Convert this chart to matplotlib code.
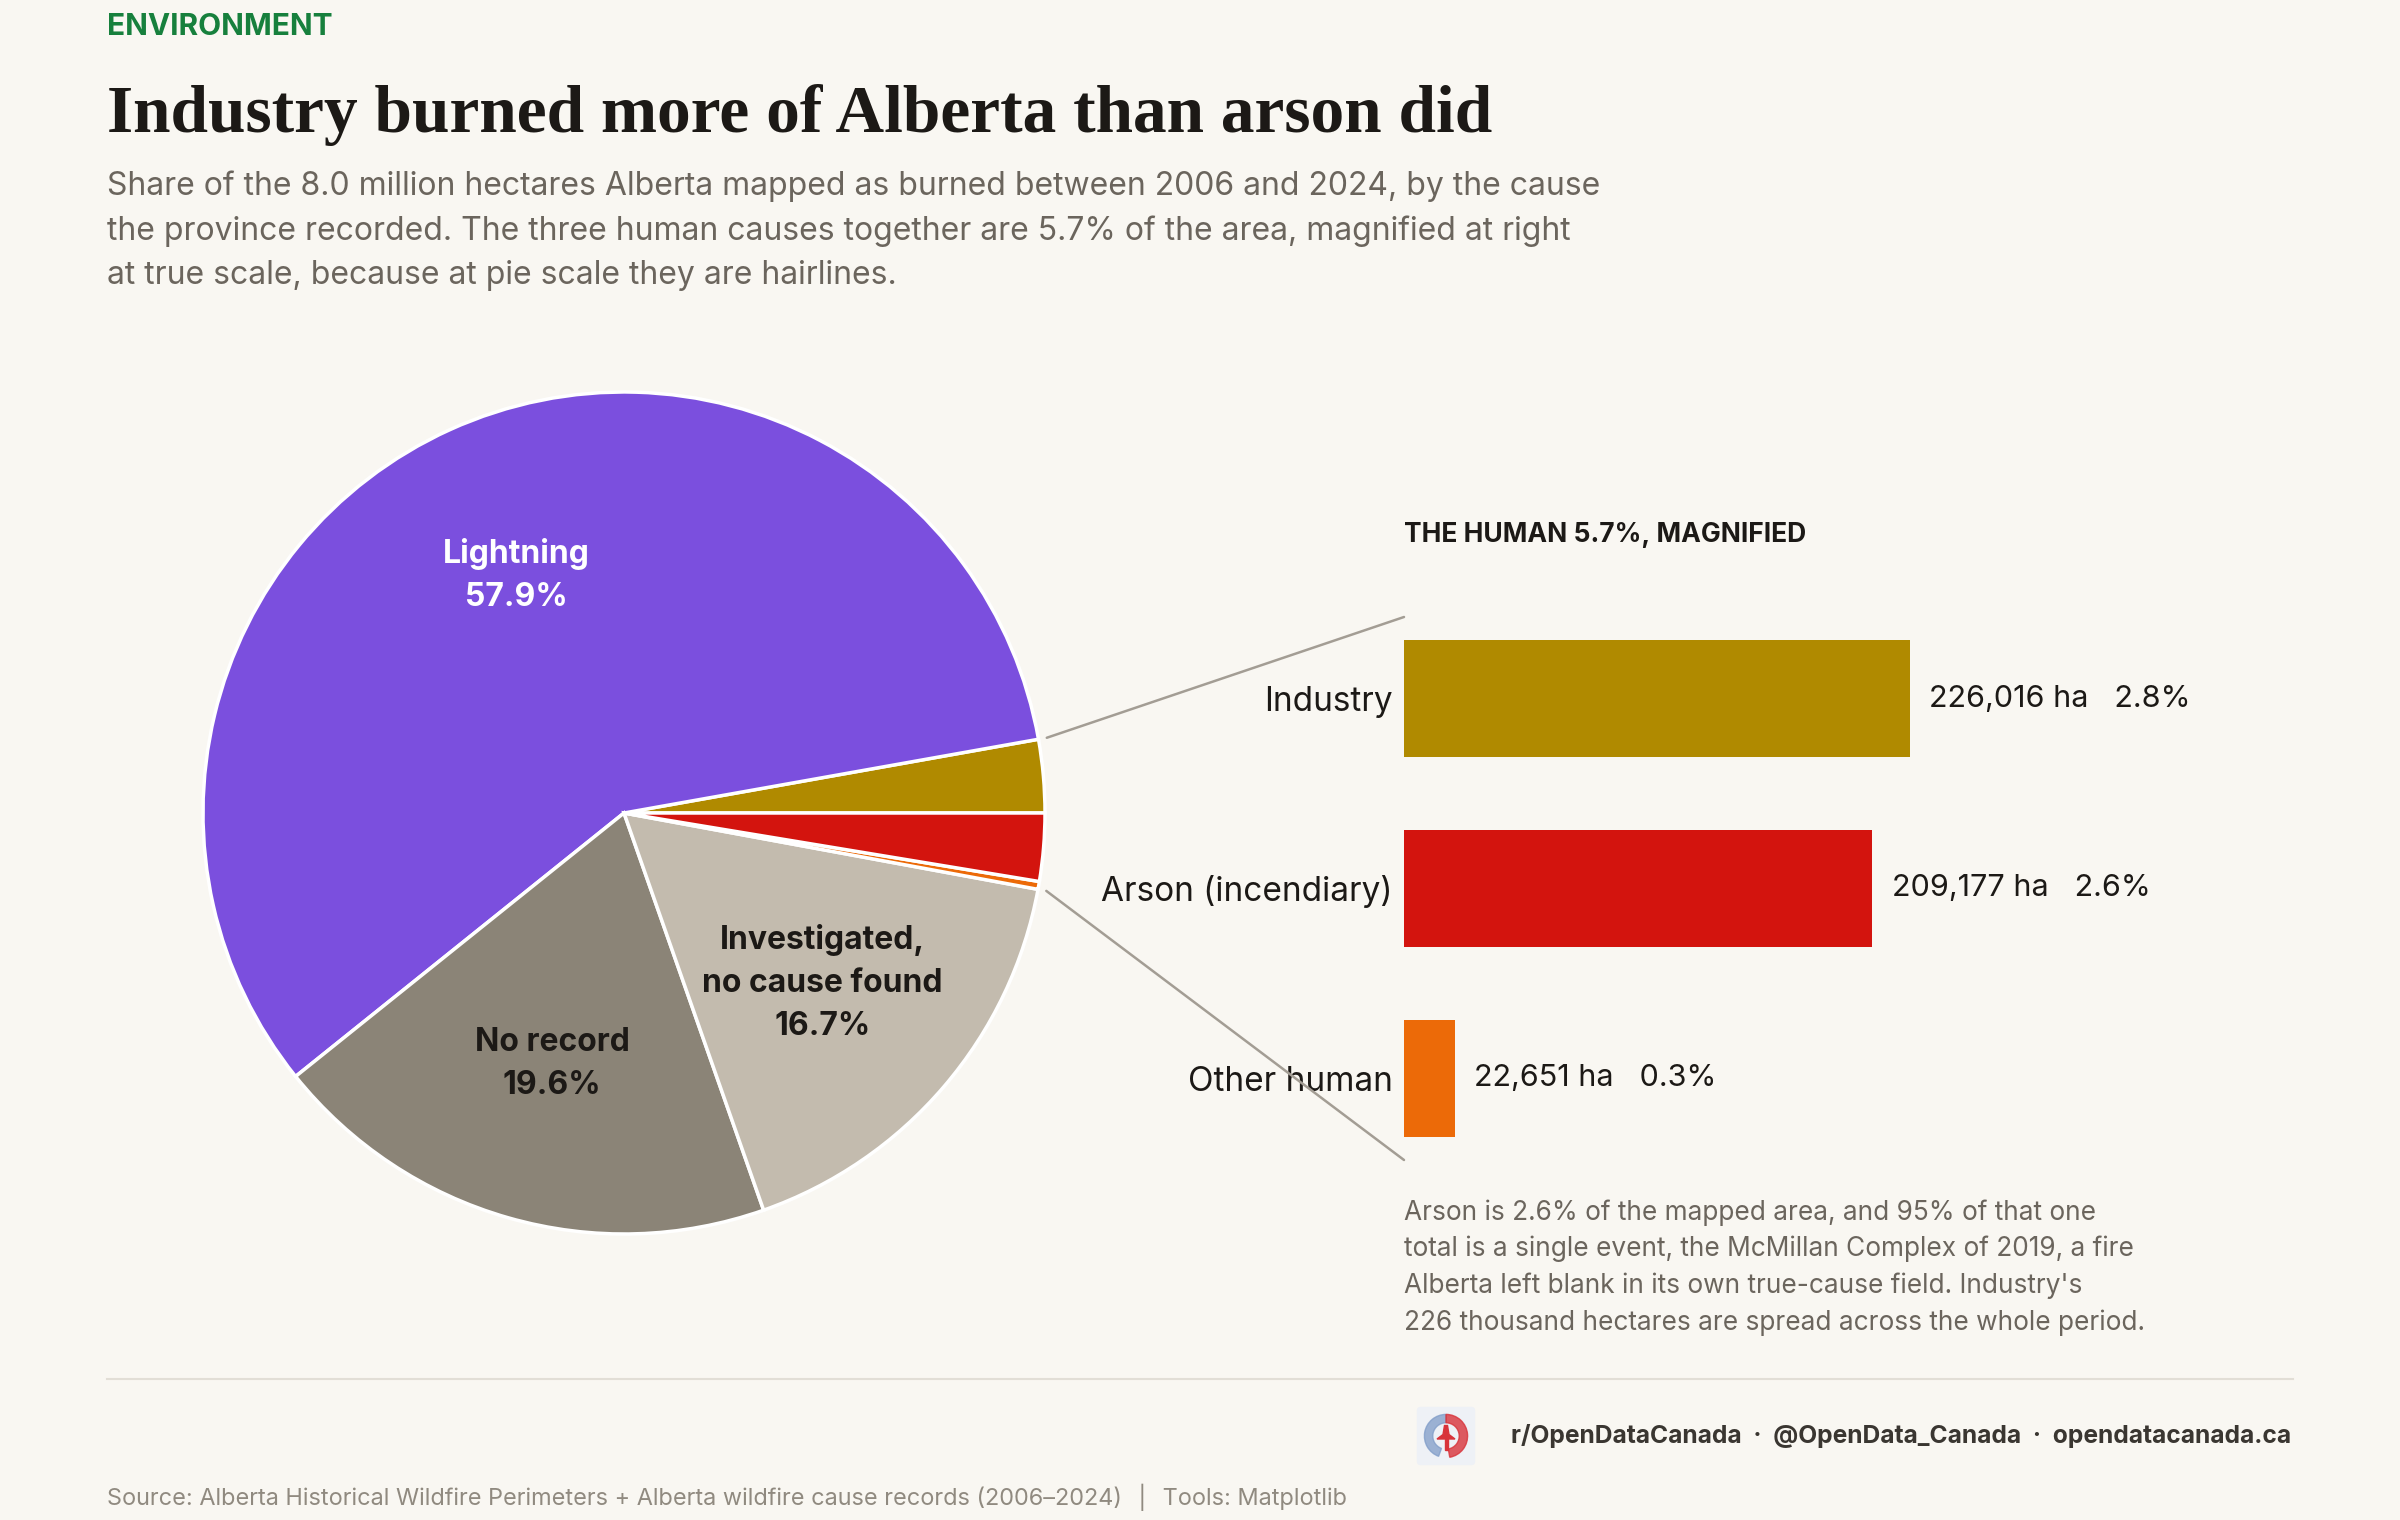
import numpy as np
import matplotlib
matplotlib.use("Agg")
import matplotlib.pyplot as plt
from matplotlib.patches import ConnectionPatch, Wedge, FancyBboxPatch, Polygon

# data
pie_labels = ["Industry", "Lightning", "No record", "Investigated,\nno cause found",
              "Other human", "Arson (incendiary)"]
pie_shares = [2.8, 57.9, 19.6, 16.7, 0.3, 2.6]
pie_colors = ["#b08a00", "#7b4fde", "#8b8477", "#c3bbae", "#ec6a08", "#d3140e"]

human_causes = ["Industry", "Arson (incendiary)", "Other human"]
human_hectares = [226016, 209177, 22651]
human_shares = [2.8, 2.6, 0.3]
human_colors = ["#b08a00", "#d3140e", "#ec6a08"]

BG = "#f9f7f2"
INK = "#1c1916"
GREY = "#6b655d"

plt.rcParams["font.family"] = ["Inter", "DejaVu Sans"]

fig = plt.figure(figsize=(24, 15.2), dpi=100, facecolor=BG)

# header
fig.text(107 / 2400, 1 - 27 / 1520, "ENVIRONMENT", color="#17803d", fontsize=21.5,
         fontweight="bold", va="center", ha="left")
fig.text(107 / 2400, 1 - 132 / 1520, "Industry burned more of Alberta than arson did",
         family="Liberation Serif", fontweight="bold", fontsize=48.5, color=INK,
         va="baseline", ha="left")
fig.text(107 / 2400, 1 - 170 / 1520,
         "Share of the 8.0 million hectares Alberta mapped as burned between 2006 and 2024, by the cause\n"
         "the province recorded. The three human causes together are 5.7% of the area, magnified at right\n"
         "at true scale, because at pie scale they are hairlines.",
         fontsize=23, color=GREY, va="top", ha="left", linespacing=1.55)

# pie
cx, cy, r = 624, 813, 421
ax_pie = fig.add_axes([(cx - r) / 2400, (1520 - cy - r) / 1520, 2 * r / 2400, 2 * r / 1520])
ax_pie.set_facecolor("none")
wedges, _ = ax_pie.pie(pie_shares, colors=pie_colors, startangle=0, counterclock=True,
                       radius=1.0, wedgeprops=dict(edgecolor="white", linewidth=2.5))
ax_pie.set_xlim(-1, 1)
ax_pie.set_ylim(-1, 1)
ax_pie.axis("off")

for w, lab, share in zip(wedges, pie_labels, pie_shares):
    if share < 10:
        continue
    ang = np.deg2rad((w.theta1 + w.theta2) / 2)
    col = "white" if lab == "Lightning" else INK
    ax_pie.text(0.62 * np.cos(ang), 0.62 * np.sin(ang), f"{lab}\n{share:.1f}%",
                ha="center", va="center", fontsize=23, fontweight="bold", color=col,
                linespacing=1.5)

# bars
ax_bar = fig.add_axes([1404 / 2400, (1520 - 1160) / 1520, 895.5 / 2400, 543 / 1520])
ax_bar.set_facecolor("none")
y = np.arange(len(human_causes))
ax_bar.barh(y, human_hectares, height=0.62, color=human_colors)
ax_bar.set_xlim(0, 400000)
ax_bar.set_ylim(2.43, -0.43)
ax_bar.set_yticks(y, human_causes, fontsize=24, color=INK)
ax_bar.tick_params(axis="y", length=0, pad=8)
ax_bar.set_xticks([])
for s in ax_bar.spines.values():
    s.set_visible(False)
for yi, ha_, sh in zip(y, human_hectares, human_shares):
    ax_bar.annotate(f"{ha_:,} ha   {sh:.1f}%", (ha_, yi), xytext=(14, 0),
                    textcoords="offset points", va="center", ha="left",
                    fontsize=22, color=INK)

fig.text(1404 / 2400, 1 - 535 / 1520, "THE HUMAN 5.7%, MAGNIFIED", fontsize=19,
         fontweight="bold", color=INK, va="center", ha="left")

# connectors from the human slices to the bar panel
human_wedges = [wedges[pie_labels.index("Industry")], wedges[pie_labels.index("Other human")]]
a_top = np.deg2rad(human_wedges[0].theta2)
a_bot = np.deg2rad(human_wedges[1].theta1)
for ang, yend in [(a_top, 1.0), (a_bot, 0.0)]:
    con = ConnectionPatch(xyA=(1.02 * np.cos(ang), 1.02 * np.sin(ang)), coordsA=ax_pie.transData,
                          xyB=(0, yend), coordsB=ax_bar.transAxes,
                          color="#a39d94", linewidth=1.8)
    fig.add_artist(con)

fig.text(1404 / 2400, 1 - 1199 / 1520,
         "Arson is 2.6% of the mapped area, and 95% of that one\n"
         "total is a single event, the McMillan Complex of 2019, a fire\n"
         "Alberta left blank in its own true-cause field. Industry's\n"
         "226 thousand hectares are spread across the whole period.",
         fontsize=18.9, color=GREY, va="top", ha="left", linespacing=1.5)

# footer
fig.add_artist(plt.Line2D([107 / 2400, 2293 / 2400], [1 - 1379 / 1520] * 2,
                          transform=fig.transFigure, color="#e2ded6", linewidth=1.5))
fig.text(2291 / 2400, 1 - 1436 / 1520,
         "r/OpenDataCanada  ·  @OpenData_Canada  ·  opendatacanada.ca",
         fontsize=17.7, fontweight="bold", color="#3a3631", va="center", ha="right")
fig.text(107 / 2400, 1 - 1497 / 1520,
         "Source: Alberta Historical Wildfire Perimeters + Alberta wildfire cause records (2006\u20132024)  \u2502  Tools: Matplotlib",
         fontsize=16.9, color="#908a80", va="center", ha="left")

# small logo
ax_logo = fig.add_axes([1416 / 2400, (1520 - 1466) / 1520, 60 / 2400, 60 / 1520])
ax_logo.set_xlim(-1, 1)
ax_logo.set_ylim(-1, 1)
ax_logo.set_aspect("equal")
ax_logo.axis("off")
ax_logo.add_patch(FancyBboxPatch((-0.95, -0.95), 1.9, 1.9, boxstyle="round,pad=0,rounding_size=0.1",
                                 color="#eef1f6"))
ax_logo.add_patch(Wedge((0, 0), 0.72, 90, 250, width=0.28, color="#7f9cc8", alpha=0.75))
ax_logo.add_patch(Wedge((0, 0), 0.72, -80, 90, width=0.28, color="#d8333a", alpha=0.8))
ax_logo.add_patch(Polygon([[-0.3, -0.1], [0.3, -0.1], [0.1, 0.05], [0.05, 0.35], [-0.05, 0.35],
                           [-0.1, 0.05]], color="#d8333a"))
ax_logo.add_patch(Polygon([[-0.05, -0.1], [0.05, -0.1], [0.05, -0.45], [-0.05, -0.45]], color="#d8333a"))

fig.savefig("out.png", dpi=100, facecolor=BG)
